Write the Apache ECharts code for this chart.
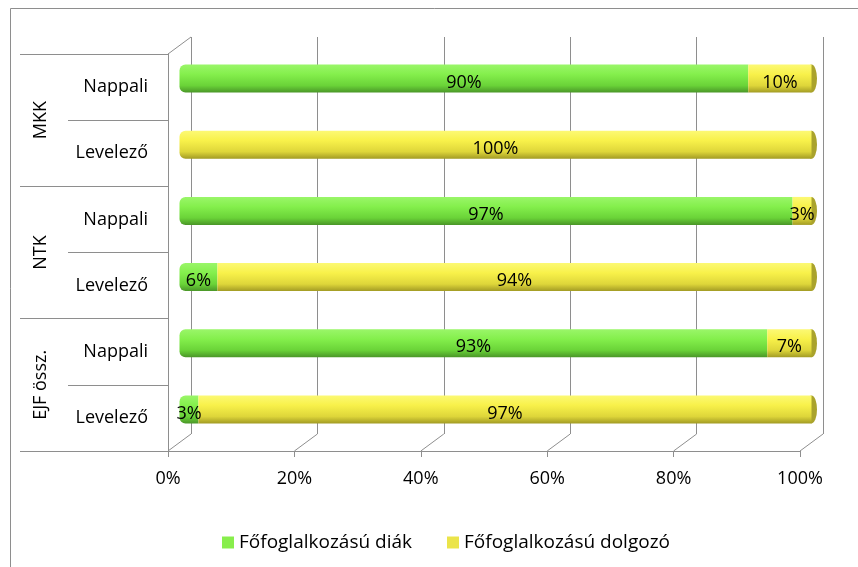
<!DOCTYPE html>
<html>
<head>
<meta charset="utf-8">
<script src="https://cdn.jsdelivr.net/npm/echarts@6/dist/echarts.min.js"></script>
<style>
html, body { margin: 0; padding: 0; background: #fff; }
#main { width: 858px; height: 567px; }
</style>
</head>
<body>
<div id="main"></div>
<script>
// data
var groups = ['MKK', 'NTK', 'EJF össz.'];
var rows = ['Nappali', 'Levelező', 'Nappali', 'Levelező', 'Nappali', 'Levelező'];
var seriesNames = ['Főfoglalkozású diák', 'Főfoglalkozású dolgozó'];
var diak = [90, 0, 97, 6, 93, 3];
var dolgozo = [10, 100, 3, 94, 7, 97];
var capValues = [100, 100, 100, 100, 100, 100];

// layout of the fake 3d box
var W = 858, H = 567;
var front = { left: 168, top: 54, right: 800, bottom: 451 };
var dx = 23, dy = -17;
var lineColor = '#8e8e8e';
var font = '"Open Sans", "Noto Sans", sans-serif';
var fs = 18;

var chartDom = document.getElementById('main');
var myChart = echarts.init(chartDom);

var greenGrad = new echarts.graphic.LinearGradient(0, 0, 0, 1, [
    { offset: 0, color: '#9af669' },
    { offset: 0.35, color: '#84ef4c' },
    { offset: 0.75, color: '#6ad338' },
    { offset: 1, color: '#4a9628' }
]);
var yellowGrad = new echarts.graphic.LinearGradient(0, 0, 0, 1, [
    { offset: 0, color: '#fcf974' },
    { offset: 0.35, color: '#f8f14a' },
    { offset: 0.75, color: '#ded63a' },
    { offset: 1, color: '#a29b24' }
]);

var diakData = diak.map(function (v) {
    return { value: v, itemStyle: { borderRadius: [6, 0, 0, 6] } };
});
var dolgozoData = dolgozo.map(function (v, i) {
    return { value: v, itemStyle: { borderRadius: diak[i] === 0 ? [6, 0, 0, 6] : 0 } };
});

var labelOpt = {
    show: true,
    position: 'inside',
    offset: [0, 4],
    color: '#000',
    fontSize: fs,
    fontFamily: font,
    formatter: function (p) { return p.value > 0 ? p.value + '%' : ''; }
};

function gridBox(off) {
    return {
        left: front.left + dx * off, right: W - front.right - dx * off,
        top: front.top + dy * off, bottom: H - front.bottom - dy * off,
        outerBoundsMode: 'none', containLabel: false
    };
}

var option = {
    animation: false,
    grid: [gridBox(0), gridBox(0.5), gridBox(1)],
    legend: {
        left: 217,
        top: 528,
        itemWidth: 12,
        itemHeight: 12,
        itemGap: 35,
        icon: 'rect',
        textStyle: { fontSize: 19, fontFamily: font, color: '#000' },
        data: [
            { name: seriesNames[0], itemStyle: { color: '#88ee4c' } },
            { name: seriesNames[1], itemStyle: { color: '#ebe44a' } }
        ]
    },
    xAxis: [
        {
            gridIndex: 0, type: 'value', min: 0, max: 100, interval: 20,
            axisLine: { show: true, lineStyle: { color: lineColor } },
            axisTick: { show: true, length: 6, lineStyle: { color: lineColor } },
            axisLabel: { formatter: '{value}%', fontSize: fs, fontFamily: font, color: '#000', margin: 19 },
            splitLine: { show: false }
        },
        {
            gridIndex: 1, type: 'value', min: 0, max: 100, show: false
        },
        {
            gridIndex: 2, type: 'value', min: 0, max: 100, interval: 20,
            axisLine: { show: false }, axisTick: { show: false }, axisLabel: { show: false },
            splitLine: { show: true, lineStyle: { color: lineColor, width: 1 } }
        }
    ],
    yAxis: [
        {
            gridIndex: 0, type: 'category', inverse: true, data: rows, position: 'left',
            axisLine: { show: true, lineStyle: { color: lineColor } },
            axisTick: { show: true, length: 100, lineStyle: { color: lineColor } },
            axisLabel: { fontSize: fs, fontFamily: font, color: '#000', margin: 20 }
        },
        {
            gridIndex: 0, type: 'category', inverse: true, data: groups, position: 'left',
            axisLine: { show: false },
            axisTick: { show: true, length: 148, lineStyle: { color: lineColor } },
            axisLabel: { rotate: 90, fontSize: fs, fontFamily: font, color: '#000', margin: 118 }
        },
        {
            gridIndex: 1, type: 'category', inverse: true, data: rows, show: false
        },
        {
            gridIndex: 2, type: 'category', inverse: true, data: rows, show: false
        }
    ],
    series: [
        {
            name: seriesNames[0], type: 'bar', stack: 'all', z: 4,
            xAxisIndex: 1, yAxisIndex: 2, barWidth: 28,
            itemStyle: { color: greenGrad },
            label: labelOpt,
            data: diakData
        },
        {
            name: seriesNames[1], type: 'bar', stack: 'all', z: 4,
            xAxisIndex: 1, yAxisIndex: 2, barWidth: 28,
            itemStyle: { color: yellowGrad },
            label: labelOpt,
            data: dolgozoData
        },
        {
            name: 'cap', type: 'scatter', xAxisIndex: 1, yAxisIndex: 2,
            symbol: 'circle', symbolSize: [11, 28], z: 3,
            itemStyle: { color: '#aaa32c', opacity: 1 },
            silent: true,
            data: capValues
        }
    ]
};

myChart.setOption(option);

// floor and wall diagonals of the 3d box
var lines = [];
[0, 20, 40, 60, 80, 100].forEach(function (v) {
    var fx = myChart.convertToPixel({ xAxisIndex: 0 }, v);
    var bx = myChart.convertToPixel({ xAxisIndex: 2 }, v);
    lines.push({ x1: fx, y1: front.bottom, x2: bx, y2: front.bottom + dy });
});
lines.push({ x1: front.left, y1: front.top, x2: front.left + dx, y2: front.top + dy });

var graphics = lines.map(function (s) {
    return {
        type: 'line', silent: true, z: 1,
        shape: s,
        style: { stroke: lineColor, lineWidth: 1 }
    };
});
graphics.push({
    type: 'rect', silent: true, z: 0,
    shape: { x: 10.5, y: 8.5, width: 900, height: 600 },
    style: { fill: null, stroke: lineColor, lineWidth: 1 }
});
myChart.setOption({ graphic: graphics });
</script>
</body>
</html>
